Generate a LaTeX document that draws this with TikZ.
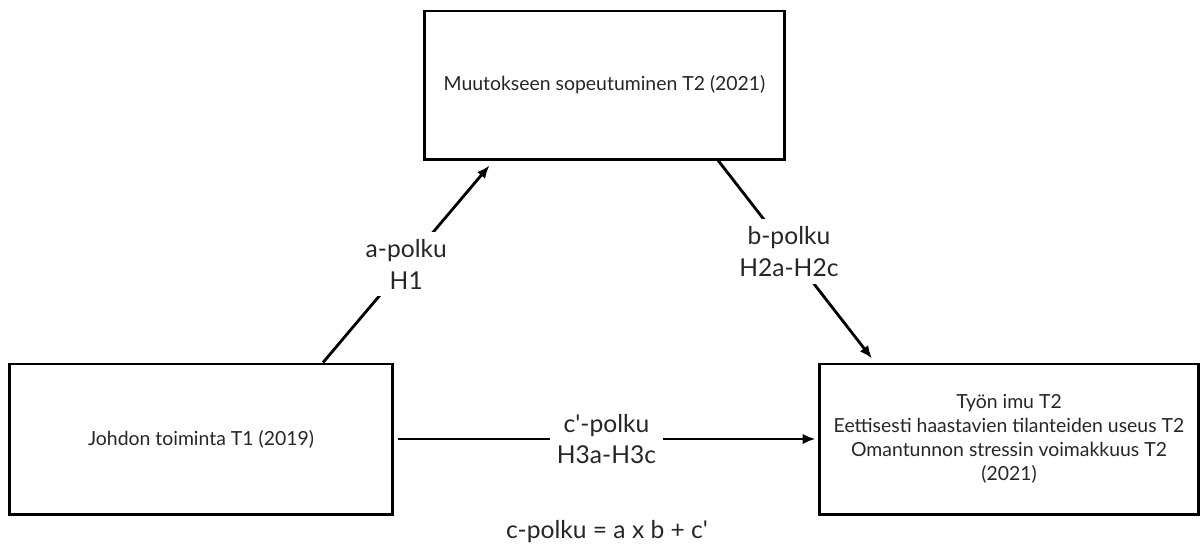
\documentclass[tikz,border=0pt]{standalone}
\usepackage{fontspec}
\setmainfont{Lato}
\usetikzlibrary{arrows.meta}

\begin{document}
\begin{tikzpicture}[x=0.025cm, y=-0.025cm,
  laatikko/.style={draw, line width=2.1pt, align=center, text=black!85, font=\fontsize{13.8}{17}\selectfont},
  polku/.style={fill=white, align=center, text=black!85, inner sep=5pt, font=\fontsize{17.5}{22.7}\selectfont},
  >={Latex[length=3.2mm,width=2.6mm]},
  nuoli/.style={->, line width=2pt}]
\useasboundingbox (0,0) rectangle (1200,547);
\node[laatikko, minimum width=8.975cm, minimum height=3.7cm] (Muutos) at (604.5,85) {Muutokseen sopeutuminen T2 (2021)};
\node[laatikko, minimum width=9.55cm, minimum height=3.75cm] (Johto) at (201,439) {Johdon toiminta T1 (2019)};
\node[laatikko, minimum width=9.45cm, minimum height=3.75cm] (Tyo) at (1009,439) {Työn imu T2\\Eettisesti haastavien tilanteiden useus T2\\Omantunnon stressin voimakkuus T2\\(2021)};
\draw[nuoli] ([xshift=3.05cm]Johto.north) -- node[polku] {a-polku\\H1} ([xshift=-2.875cm,yshift=-0.125cm]Muutos.south);
\draw[nuoli] ([xshift=2.84cm]Muutos.south) -- node[polku, pos=0.46] {b-polku\\H2a-H2c} ([xshift=-3.425cm,yshift=0.1cm]Tyo.north);
\draw[nuoli] ([xshift=0.1cm]Johto.east) -- node[polku] {c\textquotesingle-polku\\H3a-H3c} ([xshift=-0.075cm]Tyo.west);
\node[text=black!85, font=\fontsize{17.5}{22.7}\selectfont] (cPolku) at (607,532) {c-polku = a x b + c\textquotesingle};
\end{tikzpicture}
\end{document}
